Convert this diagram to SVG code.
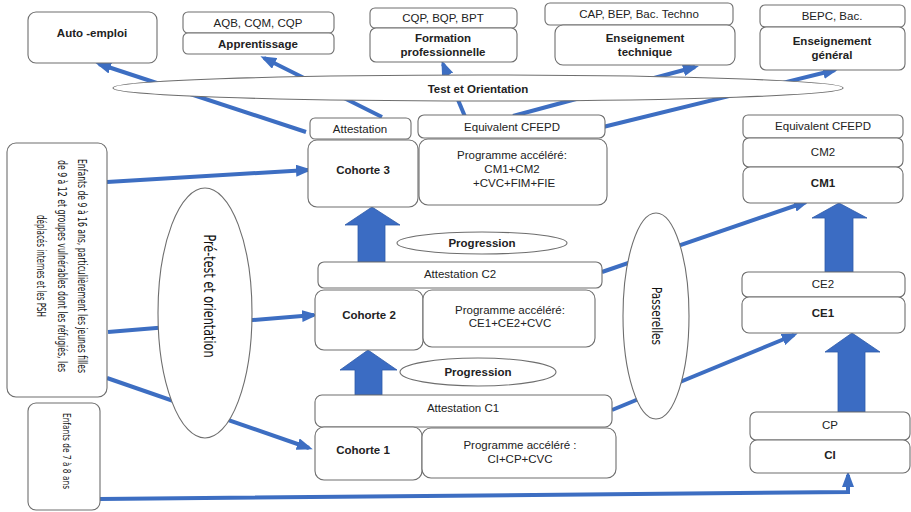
<svg xmlns="http://www.w3.org/2000/svg" width="911" height="512" viewBox="0 0 911 512">
<defs>
<style>
.box{fill:#fff;stroke:#6e6e6e;stroke-width:1.1}
.ell{fill:#fff;stroke:#6e6e6e;stroke-width:1.1}
.t{font-family:"Liberation Sans",Arial,sans-serif;font-size:11.5px;fill:#222;text-anchor:middle;dominant-baseline:central}
.b{font-weight:bold}
.r{font-family:"Liberation Sans Narrow","DejaVu Sans Condensed","Liberation Sans",sans-serif;font-size:13px;fill:#111}
.con{stroke:#3d6ec2;stroke-width:4;fill:none}
.big{fill:#3b6cc3;stroke:#2f5ba8;stroke-width:0.8}
</style>
<marker id="ah" markerUnits="userSpaceOnUse" markerWidth="16" markerHeight="12" viewBox="0 0 16 12" refX="12" refY="6" orient="auto">
<path d="M0,0 L16,6 L0,12 z" fill="#3d6ec2"/>
</marker>
</defs>
<rect width="911" height="512" fill="#fff"/>

<g id="connectors">
<line class="con" x1="306" y1="132" x2="99" y2="64" marker-end="url(#ah)"/>
<line class="con" x1="382" y1="117" x2="264" y2="58" marker-end="url(#ah)"/>
<line class="con" x1="466" y1="119" x2="443" y2="64" marker-end="url(#ah)"/>
<line class="con" x1="513" y1="116" x2="695" y2="67" marker-end="url(#ah)"/>
<line class="con" x1="603" y1="127" x2="835" y2="70" marker-end="url(#ah)"/>
<line class="con" x1="107" y1="182" x2="308" y2="170" marker-end="url(#ah)"/>
<line class="con" x1="108" y1="332" x2="314" y2="315" marker-end="url(#ah)"/>
<line class="con" x1="107" y1="378" x2="309" y2="448" marker-end="url(#ah)"/>
<line class="con" x1="602" y1="272" x2="806" y2="202" marker-end="url(#ah)"/>
<line class="con" x1="612" y1="410" x2="794" y2="335" marker-end="url(#ah)"/>
<polyline class="con" points="100,499 848,492 848,475" marker-end="url(#ah)"/>
<path class="big" d="M358,262 L385,262 L385,225 L400,225 L372,207 L345,225 L358,225 Z"/>
<path class="big" d="M355,395 L382,395 L382,370 L397,370 L368,350 L340,370 L355,370 Z"/>
<path class="big" d="M825,272 L853,272 L853,218 L867,218 L839,203 L812,218 L825,218 Z"/>
<path class="big" d="M838,412 L865,412 L865,352 L880,352 L852,333 L825,352 L838,352 Z"/>
</g>

<g id="test-orientation">
<ellipse class="ell" cx="478" cy="88" rx="365" ry="13"/>
<text class="t b" x="478" y="89" font-size="12">Test et Orientation</text>
</g>

<g id="auto-emploi">
<rect class="box" x="28" y="12" width="129" height="51" rx="8"/>
<text class="t b" x="92" y="33">Auto -emploi</text>
</g>
<g id="apprentissage">
<rect class="box" x="183" y="12" width="151" height="21" rx="5"/>
<text class="t" x="258" y="23">AQB, CQM, CQP</text>
<rect class="box" x="183" y="33" width="151" height="21" rx="5"/>
<text class="t b" x="258" y="44">Apprentissage</text>
</g>
<g id="formation">
<rect class="box" x="370" y="8" width="147" height="20" rx="5"/>
<text class="t" x="443" y="18">CQP, BQP, BPT</text>
<rect class="box" x="370" y="28" width="147" height="34" rx="6"/>
<text class="t b" x="443" y="38">Formation</text>
<text class="t b" x="443" y="52">professionnelle</text>
</g>
<g id="ens-technique">
<rect class="box" x="545" y="3" width="188" height="22" rx="5"/>
<text class="t" x="639" y="14">CAP, BEP, Bac. Techno</text>
<rect class="box" x="555" y="25" width="180" height="40" rx="8"/>
<text class="t b" x="645" y="38">Enseignement</text>
<text class="t b" x="645" y="52">technique</text>
</g>
<g id="ens-general">
<rect class="box" x="760" y="5" width="145" height="22" rx="5"/>
<text class="t" x="832" y="16">BEPC, Bac.</text>
<rect class="box" x="760" y="27" width="145" height="43" rx="6"/>
<text class="t b" x="832" y="41">Enseignement</text>
<text class="t b" x="832" y="55">général</text>
</g>

<g id="cohorte3">
<rect class="box" x="310" y="118" width="101" height="21" rx="5"/>
<text class="t" x="360" y="129">Attestation</text>
<rect class="box" x="418" y="115" width="187" height="23" rx="6"/>
<text class="t" x="512" y="127">Equivalent CFEPD</text>
<rect class="box" x="308" y="140" width="110" height="67" rx="9"/>
<text class="t b" x="363" y="170" font-size="12.5">Cohorte 3</text>
<rect class="box" x="419" y="139" width="188" height="66" rx="9"/>
<text class="t" x="512" y="155">Programme accéléré:</text>
<text class="t" x="512" y="169">CM1+CM2</text>
<text class="t" x="514" y="183">+CVC+FIM+FIE</text>
</g>

<g id="progression1">
<ellipse class="ell" cx="482" cy="243" rx="85" ry="11"/>
<text class="t b" x="482" y="243" font-size="12">Progression</text>
</g>

<g id="cohorte2">
<rect class="box" x="318" y="262" width="284" height="26" rx="6"/>
<text class="t" x="460" y="274">Attestation C2</text>
<rect class="box" x="315" y="290" width="108" height="60" rx="9"/>
<text class="t b" x="369" y="315" font-size="12.5">Cohorte 2</text>
<rect class="box" x="423" y="290" width="172" height="57" rx="9"/>
<text class="t" x="510" y="310">Programme accéléré:</text>
<text class="t" x="510" y="323">CE1+CE2+CVC</text>
</g>

<g id="progression2">
<ellipse class="ell" cx="478" cy="372" rx="78" ry="14"/>
<text class="t b" x="478" y="372" font-size="12">Progression</text>
</g>

<g id="cohorte1">
<rect class="box" x="315" y="395" width="297" height="32" rx="7"/>
<text class="t" x="463" y="408">Attestation C1</text>
<rect class="box" x="315" y="427" width="107" height="53" rx="9"/>
<text class="t b" x="363" y="450" font-size="12.5">Cohorte 1</text>
<rect class="box" x="422" y="428" width="194" height="50" rx="9"/>
<text class="t" x="520" y="445">Programme accéléré :</text>
<text class="t" x="520" y="459">CI+CP+CVC</text>
</g>

<g id="cible-9-16">
<rect class="box" x="7" y="143" width="100" height="254" rx="9"/>
<text class="t r" transform="translate(82,266) rotate(90)" textLength="214" lengthAdjust="spacingAndGlyphs">Enfants de 9 à 16 ans, particulièrement les jeunes filles</text>
<text class="t r" transform="translate(62,266) rotate(90)" textLength="212" lengthAdjust="spacingAndGlyphs">de 9 à 12 et groupes vulnérables dont les réfugiés, les</text>
<text class="t r" transform="translate(41,266) rotate(90)" textLength="102" lengthAdjust="spacingAndGlyphs">déplacés internes et les PSH</text>
</g>

<g id="cible-7-8">
<rect class="box" x="28" y="403" width="72" height="107" rx="8"/>
<text class="t r" transform="translate(66,451) rotate(90)" style="font-size:10px" textLength="76" lengthAdjust="spacingAndGlyphs">Enfants de 7 à 8 ans</text>
</g>

<g id="pretest">
<ellipse class="ell" cx="205" cy="313" rx="47" ry="125"/>
<text class="t r" transform="translate(209,296) rotate(90)" style="font-size:15px" textLength="123" lengthAdjust="spacingAndGlyphs">Pré-test et orientation</text>
</g>

<g id="passerelles">
<ellipse class="ell" cx="656" cy="316" rx="33" ry="103"/>
<text class="t r" transform="translate(657,316) rotate(90)" style="font-size:14px" textLength="58" lengthAdjust="spacingAndGlyphs">Passerelles</text>
</g>

<g id="primaire">
<rect class="box" x="743" y="115" width="160" height="23" rx="5"/>
<text class="t" x="823" y="126">Equivalent CFEPD</text>
<rect class="box" x="743" y="138" width="160" height="29" rx="6"/>
<text class="t" x="823" y="152">CM2</text>
<rect class="box" x="743" y="167" width="160" height="36" rx="7"/>
<text class="t b" x="823" y="183">CM1</text>
<rect class="box" x="742" y="272" width="163" height="25" rx="6"/>
<text class="t" x="823" y="284">CE2</text>
<rect class="box" x="742" y="297" width="163" height="36" rx="7"/>
<text class="t b" x="823" y="313">CE1</text>
<rect class="box" x="750" y="412" width="160" height="28" rx="6"/>
<text class="t" x="830" y="425">CP</text>
<rect class="box" x="750" y="440" width="160" height="33" rx="7"/>
<text class="t b" x="830" y="455">CI</text>
</g>
</svg>
